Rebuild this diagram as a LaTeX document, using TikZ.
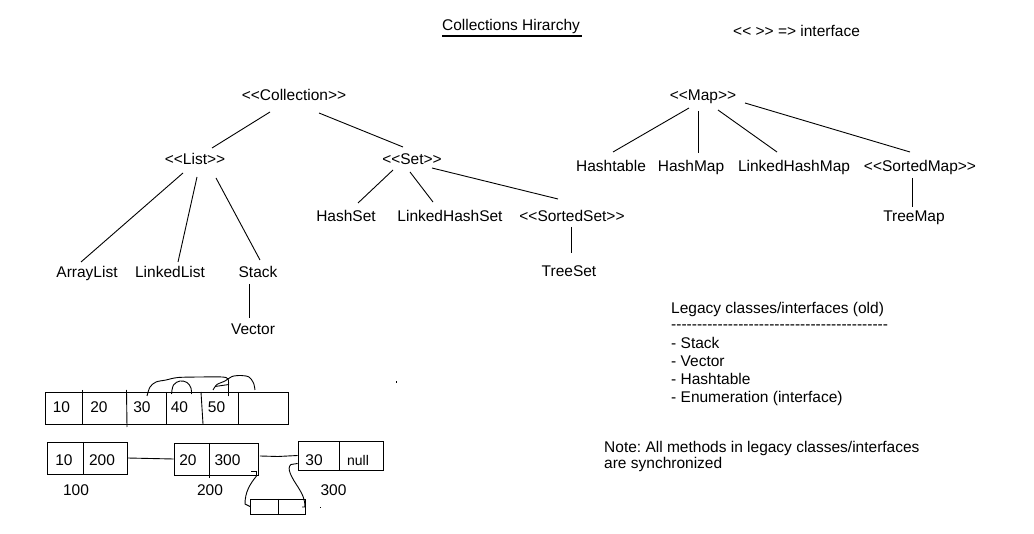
\documentclass[tikz,border=0pt]{standalone}
\usepackage{fontspec}
\setmainfont{Liberation Sans}[Ligatures=TeXOff]
\frenchspacing
\begin{document}
\begin{tikzpicture}[x=1pt,y=-1pt,
  tx/.style={inner sep=0pt, anchor=base, font=\fontsize{15.5}{18}\selectfont},
  lt/.style={inner sep=0pt, anchor=base west, font=\fontsize{15.5}{18}\selectfont},
  ln/.style={line width=0.9pt},
  box/.style={draw, line width=0.9pt, inner sep=0pt}]
\useasboundingbox[fill=white] (0,0) rectangle (1034,534);

% title and key
\node[tx] (title) at (511,31) {Collections Hirarchy};
\draw[line width=1.3pt] ([shift={(-69,5)}]title.base) -- ([shift={(71,5)}]title.base);
\node[lt] (key) at (733,37) {<< >> => interface};

% Collection tree
\node[tx] (coll) at (294,101) {<<Collection>>};
\node[tx] (list) at (195,165) {<<List>>};
\node[tx] (set) at (412,165) {<<Set>>};
\node[tx] (arr) at (87,278) {ArrayList};
\node[tx] (llist) at (170,278) {LinkedList};
\node[tx] (stack) at (258,278) {Stack};
\node[tx] (vec) at (253,335) {Vector};
\node[tx] (hset) at (346,222) {HashSet};
\node[tx] (lhset) at (450,222) {LinkedHashSet};
\node[tx] (sset) at (572,222) {<<SortedSet>>};
\node[tx] (tset) at (569,277) {TreeSet};

\draw[ln] ([shift={(-24,11)}]coll.base) -- ([shift={(17,-17)}]list.base);
\draw[ln] ([shift={(25,12)}]coll.base) -- ([shift={(-9,-18)}]set.base);
\draw[ln] ([shift={(-12,8)}]list.base) -- ([shift={(-6,-16)}]arr.base);
\draw[ln] ([shift={(2,12)}]list.base) -- ([shift={(8,-16)}]llist.base);
\draw[ln] ([shift={(21,13)}]list.base) -- ([shift={(2,-18)}]stack.base);
\draw[ln] ([shift={(-9,6)}]stack.base) -- ([shift={(-4,-17)}]vec.base);
\draw[ln] ([shift={(-19,5)}]set.base) -- ([shift={(12,-19)}]hset.base);
\draw[ln] ([shift={(-2,7)}]set.base) -- ([shift={(-17,-20)}]lhset.base);
\draw[ln] ([shift={(20,3)}]set.base) -- ([shift={(-14,-23)}]sset.base);
\draw[ln] ([shift={(-1,5)}]sset.base) -- ([shift={(2,-24)}]tset.base);

% Map tree
\node[tx] (map) at (703,101) {<<Map>>};
\node[tx] (htab) at (611,172) {Hashtable};
\node[tx] (hmap) at (691,172) {HashMap};
\node[tx] (lhmap) at (794,172) {LinkedHashMap};
\node[tx] (smap) at (920,172) {<<SortedMap>>};
\node[tx] (tmap) at (914,222) {TreeMap};

\draw[ln] ([shift={(-14,7)}]map.base) -- ([shift={(2,-20)}]htab.base);
\draw[ln] ([shift={(-5,10)}]map.base) -- ([shift={(7,-19)}]hmap.base);
\draw[ln] ([shift={(15,9)}]map.base) -- ([shift={(-17,-20)}]lhmap.base);
\draw[ln] ([shift={(42,2)}]map.base) -- ([shift={(-10,-20)}]smap.base);
\draw[ln] ([shift={(-8,6)}]smap.base) -- ([shift={(-2,-15)}]tmap.base);

% Legacy block
\node[lt] (leg) at (671,314) {Legacy classes/interfaces (old)};
\node[lt] (dash) at (671,330) {------------------------------------------};
\node[lt] (l1) at (671,349) {- Stack};
\node[lt] (l2) at (671,367) {- Vector};
\node[lt] (l3) at (671,385) {- Hashtable};
\node[lt] (l4) at (671,403) {- Enumeration (interface)};

\node[lt] (note1) at (604,453) {Note: All methods in legacy classes/interfaces};
\node[lt] (note2) at (604,469) {are synchronized};

% top array
\draw[ln] (45,392) rectangle (288,424);
\draw[ln] (82,390) -- (82,425);
\draw[ln] (126.5,390) -- (127,427);
\draw[ln] (166,392) -- (166,424);
\draw[ln] (201,392) -- (203,424);
\draw[ln] (238,392) -- (238,424);
\node[tx] (a10) at (61.5,413) {10};
\node[tx] (a20) at (99,413) {20};
\node[tx] (a30) at (142,413) {30};
\node[tx] (a40) at (179.5,413) {40};
\node[tx] (a50) at (216.5,413) {50};
\draw[ln] plot[smooth, tension=0.5] coordinates {(147,396) (150,387) (156,382) (166,380) (178,377.5) (200,377) (222,377) (228,379) (228.5,387) (228.5,396)};
\draw[ln] plot[smooth, tension=0.6] coordinates {(171.5,394) (173.5,385) (180,381) (187,382.5) (191,388) (191.5,394)};
\draw[ln] plot[smooth, tension=0.5] coordinates {(213,390) (217,384.5) (225,381) (232,376.5) (241,375.5) (249,377) (253.5,383) (255,390)};
\draw[ln] (215,386.5) -- (229,384.5);
\fill (395.5,381.5) rectangle (397,383);

% linked list
\node[box, minimum width=80pt, minimum height=32pt] (n1) at (87,458) {};
\draw[ln] (83,442) -- (83,474);
\node[tx] (t10) at (64,466) {10};
\node[tx] (t200) at (102,466) {200};
\node[box, minimum width=84pt, minimum height=32pt] (n2) at (216,459) {};
\draw[ln] (209,443) -- (209,478);
\node[tx] (t20) at (188,466) {20};
\node[tx] (t300) at (227.5,466) {300};
\node[box, minimum width=85pt, minimum height=29pt] (n3) at (340.5,455.5) {};
\draw[ln] (339,441) -- (339,470);
\node[tx] (t30) at (314,466) {30};
\node[tx, font=\fontsize{14}{16}\selectfont] (tnull) at (358,466) {null};
\draw[ln] (n1.east) -- (n2.west);
\draw[ln] ([shift={(1.5,-3)}]n2.east) -- (278,456.5) -- (n3.west);
\node[tx] (m100) at (76,496) {100};
\node[tx] (m200) at (210,496) {200};
\node[tx] (m300) at (333.5,496) {300};
\node[box, minimum width=55pt, minimum height=15pt] (nb) at (277.5,506.5) {};
\draw[ln] (278,499) -- (278,514);
\draw[ln] (251,471.5) -- (256.5,471.5) -- (256.5,476) .. controls (250,484) and (245,492) .. (245,504) -- (250,506.5);
\draw[ln] (n3.west |- 0,463.5) -- (291,464.5) .. controls (286,468) and (292,478) .. (298,487) .. controls (303,495) and (305,500) .. (305,507) -- (302,507);
\fill (319.5,506.5) rectangle (321,507.5);
\end{tikzpicture}
\end{document}
